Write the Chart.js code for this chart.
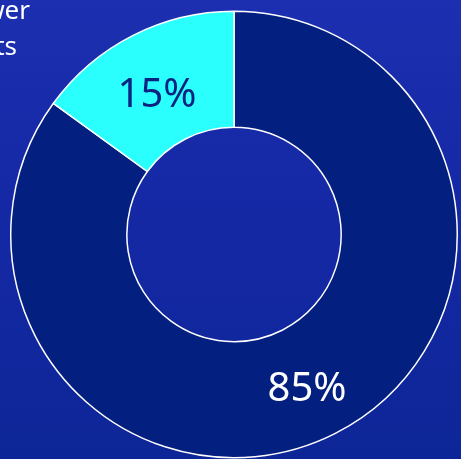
<!DOCTYPE html>
<html>
<head>
<meta charset="utf-8">
<script src="https://cdn.jsdelivr.net/npm/chart.js@4/dist/chart.umd.min.js"></script>
<style>
  html, body { margin: 0; padding: 0; }
  body {
    width: 461px; height: 459px; overflow: hidden;
    background: linear-gradient(180deg, #1b2fb0 0%, #1428a4 50%, #0d2697 100%);
  }
  canvas { display: block; }
</style>
</head>
<body>
<canvas id="dona" width="461" height="459"></canvas>
<script>
const labels = ['Otros', 'Nuevos'];
const values = [85, 15];
const colores = ['#031f80', '#2afffd'];
const colorTexto = ['#ffffff', '#0a2280'];

// etiqueta de porcentaje en el centro de cada arco
const etiquetas = {
  id: 'etiquetas',
  afterDatasetsDraw(chart) {
    const c = chart.ctx;
    const meta = chart.getDatasetMeta(0);
    c.save();
    c.font = '40px "Noto Sans"';
    c.textAlign = 'center';
    c.textBaseline = 'middle';
    meta.data.forEach((arc, i) => {
      const p = arc.tooltipPosition();
      c.fillStyle = colorTexto[i];
      c.fillText(values[i] + '%', p.x - 2, p.y + 8);
    });
    // texto cortado arriba a la izquierda
    c.fillStyle = '#ffffff';
    c.font = '26px "Noto Sans"';
    c.textAlign = 'right';
    c.textBaseline = 'alphabetic';
    c.fillText('Lower', 30, 19);
    c.fillText('costs', 17, 55);
    c.restore();
  }
};

new Chart(document.getElementById('dona'), {
  type: 'doughnut',
  data: {
    labels: labels,
    datasets: [{
      data: values,
      backgroundColor: colores,
      borderColor: '#ffffff',
      borderWidth: 1.5
    }]
  },
  options: {
    responsive: false,
    animation: false,
    cutout: '48%',
    layout: { padding: { left: 10, right: 3, top: 10, bottom: 0 } },
    plugins: {
      legend: { display: false },
      tooltip: { enabled: false }
    }
  },
  plugins: [etiquetas]
});
</script>
</body>
</html>
